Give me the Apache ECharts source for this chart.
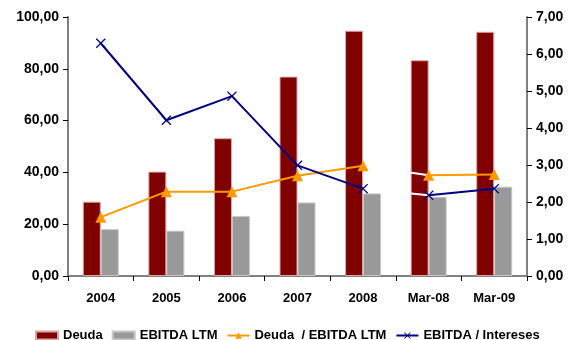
<!DOCTYPE html>
<html><head><meta charset="utf-8">
<script src="https://cdn.jsdelivr.net/npm/echarts@6/dist/echarts.min.js"></script>
<style>html,body{margin:0;padding:0;background:#fff}#c{width:568px;height:340px}</style>
</head><body><div id="c"></div>
<script>
var categories = ['2004','2005','2006','2007','2008','Mar-08','Mar-09'];
var deuda = [28.7, 40.3, 53.2, 77.0, 94.7, 83.3, 94.3];
var ebitdaLtm = [18.1, 17.5, 23.2, 28.4, 31.9, 30.6, 34.5];
var deudaEbitda = [1.59, 2.28, 2.28, 2.71, 2.98, 2.72, 2.74];
var ebitdaIntereses = [6.29, 4.21, 4.86, 2.99, 2.36, 2.18, 2.36];
var leftTicks = {min: 0, max: 100, interval: 20};
var rightTicks = {min: 0, max: 7, interval: 1};

var splitIdx = 4; // 2008 -> Mar-08 segment drawn in white
function partA(arr){ return arr.map(function(v,i){ return i<=splitIdx ? v : null; }); }
function partB(arr){ return arr.map(function(v,i){ return i>splitIdx ? v : null; }); }
function link(arr){ return arr.map(function(v,i){ return (i===splitIdx||i===splitIdx+1) ? v : null; }); }

var fmt = function(v){ return v.toFixed(2).replace('.', ','); };
var FONT = 'Liberation Sans';
var xSym = 'path://M0,0.9L0.9,0L5,4.1L9.1,0L10,0.9L5.9,5L10,9.1L9.1,10L5,5.9L0.9,10L0,9.1L4.1,5Z';
var orange = '#FF9900', blue = '#000080';

var chart = echarts.init(document.getElementById('c'));
var axisCommon = {
  axisLine: {show: true, lineStyle: {color: '#808080', width: 2}},
  axisTick: {show: true, length: 5, lineStyle: {color: '#000', width: 1}},
  splitLine: {show: false},
  axisLabel: {color: '#000', fontFamily: FONT, fontWeight: 'bold', fontSize: 14, margin: 9, formatter: fmt}
};
chart.setOption({
  animation: false,
  textStyle: {fontFamily: FONT},
  grid: {left: 68, right: 41, top: 17, bottom: 64, containLabel: false},
  legend: {
    left: 35, top: 329, padding: 0, itemWidth: 22, itemHeight: 8, itemGap: 9,
    textStyle: {color: '#000', fontFamily: FONT, fontWeight: 'bold', fontSize: 13},
    data: [
      {name: 'Deuda', icon: 'rect'},
      {name: 'EBITDA LTM', icon: 'rect'},
      {name: 'Deuda  / EBITDA LTM'},
      {name: 'EBITDA / Intereses'}
    ]
  },
  xAxis: {
    type: 'category', data: categories,
    axisLine: {show: true, lineStyle: {color: '#808080', width: 2}},
    axisTick: {show: true, length: 5, lineStyle: {color: '#000'}},
    axisLabel: {color: '#000', fontFamily: FONT, fontWeight: 'bold', fontSize: 13, margin: 16}
  },
  yAxis: [
    Object.assign({type: 'value', position: 'left'}, leftTicks, axisCommon),
    Object.assign({type: 'value', position: 'right'}, rightTicks, axisCommon)
  ],
  series: [
    {name: 'Deuda', type: 'bar', data: deuda, barWidth: 18, barGap: '0%',
     itemStyle: {color: '#800000', borderColor: '#d8a8a8', borderWidth: 1}},
    {name: 'EBITDA LTM', type: 'bar', data: ebitdaLtm, barWidth: 18,
     itemStyle: {color: '#999999', borderColor: '#c8c8c8', borderWidth: 1}},
    {name: 'linkA', type: 'line', yAxisIndex: 1, data: link(deudaEbitda), symbol: 'none',
     lineStyle: {color: '#ffffff', width: 2}, z: 3, silent: true},
    {name: 'linkB', type: 'line', yAxisIndex: 1, data: link(ebitdaIntereses), symbol: 'none',
     lineStyle: {color: '#ffffff', width: 2}, z: 3, silent: true},
    {name: 'Deuda  / EBITDA LTM', type: 'line', yAxisIndex: 1, data: partA(deudaEbitda),
     symbol: 'triangle', symbolSize: 11, color: orange,
     lineStyle: {color: orange, width: 2}, itemStyle: {color: orange}, z: 4},
    {name: 'Deuda  / EBITDA LTM', type: 'line', yAxisIndex: 1, data: partB(deudaEbitda),
     symbol: 'triangle', symbolSize: 11, color: orange,
     lineStyle: {color: orange, width: 2}, itemStyle: {color: orange}, z: 4},
    {name: 'EBITDA / Intereses', type: 'line', yAxisIndex: 1, data: partA(ebitdaIntereses),
     symbol: xSym, symbolSize: 10, color: blue,
     lineStyle: {color: blue, width: 2}, itemStyle: {color: blue}, z: 4},
    {name: 'EBITDA / Intereses', type: 'line', yAxisIndex: 1, data: partB(ebitdaIntereses),
     symbol: xSym, symbolSize: 10, color: blue,
     lineStyle: {color: blue, width: 2}, itemStyle: {color: blue}, z: 4}
  ]
});
</script></body></html>
